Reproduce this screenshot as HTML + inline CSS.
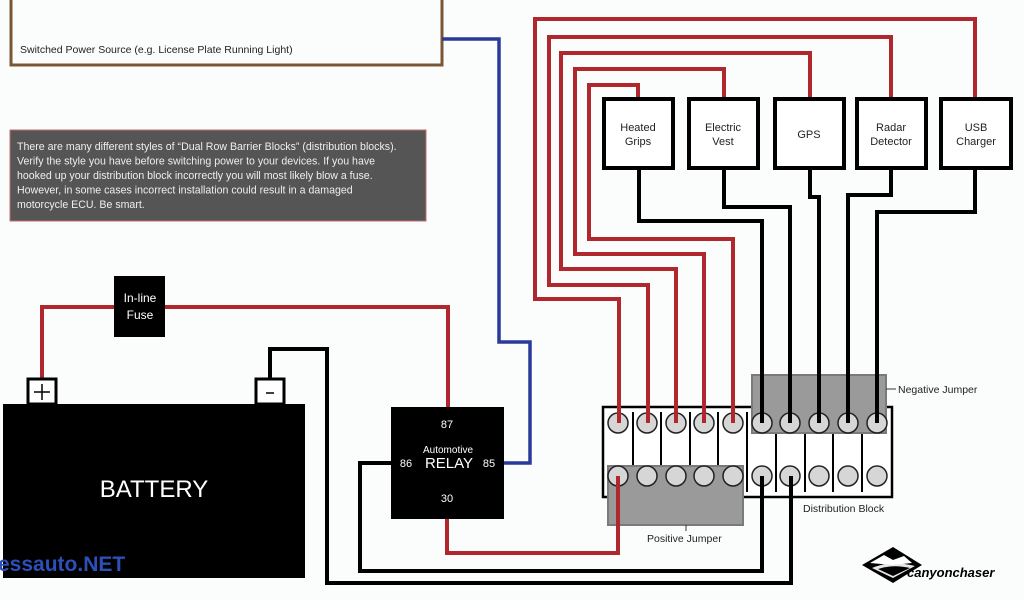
<!DOCTYPE html>
<html><head><meta charset="utf-8"><style>
html,body{margin:0;padding:0;background:#fbfdfd;}
svg{display:block;}
text{font-family:"Liberation Sans",sans-serif;}
</style></head><body>
<svg width="1024" height="600" viewBox="0 0 1024 600" xmlns="http://www.w3.org/2000/svg">
<rect width="1024" height="600" fill="#fbfdfd"/>

<!-- Switched power source box -->
<path d="M11,-5 V65 H442 V-5" fill="none" stroke="#7a5634" stroke-width="3"/>
<text x="20" y="53" font-size="10.5" fill="#222">Switched Power Source (e.g. License Plate Running Light)</text>

<!-- Note box -->
<rect x="10" y="130" width="416" height="91" fill="#555555" stroke="#c06a6a" stroke-width="1"/>
<g font-size="10.6" fill="#eeeeee">
<text x="17" y="150">There are many different styles of “Dual Row Barrier Blocks” (distribution blocks).</text>
<text x="17" y="164.5">Verify the style you have before switching power to your devices. If you have</text>
<text x="17" y="179">hooked up your distribution block incorrectly you will most likely blow a fuse.</text>
<text x="17" y="193.5">However, in some cases incorrect installation could result in a damaged</text>
<text x="17" y="208">motorcycle ECU. Be smart.</text>
</g>

<!-- Blue wire -->
<path d="M442,39 H499 V342 H530 V463 H504" fill="none" stroke="#2b3a9a" stroke-width="3.5"/>

<!-- Distribution block -->
<rect x="603" y="407" width="289" height="90" fill="#fff" stroke="#000" stroke-width="2.5"/>
<g stroke="#000" stroke-width="2">
<line x1="633" y1="412" x2="633" y2="492"/>
<line x1="661" y1="412" x2="661" y2="492"/>
<line x1="690" y1="412" x2="690" y2="492"/>
<line x1="718" y1="412" x2="718" y2="492"/>
<line x1="747" y1="412" x2="747" y2="492"/>
<line x1="776" y1="412" x2="776" y2="492"/>
<line x1="805" y1="412" x2="805" y2="492"/>
<line x1="833" y1="412" x2="833" y2="492"/>
<line x1="862" y1="412" x2="862" y2="492"/>
</g>
<!-- jumpers -->
<rect x="752" y="375" width="134" height="58" fill="#9a9a9a" stroke="#7a7a7a" stroke-width="2"/>
<rect x="608" y="466" width="135" height="59" fill="#9a9a9a" stroke="#7a7a7a" stroke-width="2"/>
<g fill="#d6d6d6" stroke="#222" stroke-width="1.5">
<circle cx="618" cy="423" r="10"/><circle cx="647" cy="423" r="10"/><circle cx="676" cy="423" r="10"/><circle cx="704" cy="423" r="10"/><circle cx="733" cy="423" r="10"/>
<circle cx="762" cy="423" r="10"/><circle cx="790" cy="423" r="10"/><circle cx="819" cy="423" r="10"/><circle cx="848" cy="423" r="10"/><circle cx="877" cy="423" r="10"/>
<circle cx="618" cy="476" r="10"/><circle cx="647" cy="476" r="10"/><circle cx="676" cy="476" r="10"/><circle cx="704" cy="476" r="10"/><circle cx="733" cy="476" r="10"/>
<circle cx="762" cy="476" r="10"/><circle cx="790" cy="476" r="10"/><circle cx="819" cy="476" r="10"/><circle cx="848" cy="476" r="10"/><circle cx="877" cy="476" r="10"/>
</g>

<!-- Red wires -->
<g fill="none" stroke="#b0282e" stroke-width="4">
<path d="M975,98 V19 H535 V299 H619 V423"/>
<path d="M891,98 V37 H549 V285 H648 V423"/>
<path d="M810,98 V53 H561 V269 H676 V423"/>
<path d="M724,98 V69 H575 V254 H704 V423"/>
<path d="M638,98 V85 H589 V239 H733 V423"/>
<path d="M42,380 V307 H448 V407"/>
<path d="M447,519 V553 H618 V476"/>
</g>

<!-- Black wires -->
<g fill="none" stroke="#000" stroke-width="4">
<path d="M639,168 V221 H762 V423"/>
<path d="M724,168 V207 H790 V423"/>
<path d="M810,168 V197 H819 V423"/>
<path d="M891,168 V195 H848 V423"/>
<path d="M975,168 V212 H877 V423"/>
<path d="M391,463 H360 V571 H762 V476"/>
<path d="M270,380 V349 H327 V583 H791 V476"/>
</g>

<!-- Device boxes -->
<g fill="#fff" stroke="#000" stroke-width="4">
<rect x="604" y="99" width="69" height="69"/>
<rect x="689" y="99" width="69" height="69"/>
<rect x="775" y="99" width="69" height="69"/>
<rect x="857" y="99" width="69" height="69"/>
<rect x="941" y="99" width="70" height="69"/>
</g>
<g font-size="11" fill="#222" text-anchor="middle">
<text x="638" y="131">Heated</text><text x="638" y="145">Grips</text>
<text x="723" y="131">Electric</text><text x="723" y="145">Vest</text>
<text x="809" y="138">GPS</text>
<text x="891" y="131">Radar</text><text x="891" y="145">Detector</text>
<text x="976" y="131">USB</text><text x="976" y="145">Charger</text>
</g>

<g stroke="#333" stroke-width="1"><line x1="686" y1="525" x2="686" y2="531"/><line x1="886" y1="389" x2="896" y2="389"/></g>
<g font-size="10.5" fill="#222">
<text x="647" y="542">Positive Jumper</text>
<text x="898" y="393">Negative Jumper</text>
<text x="803" y="512">Distribution Block</text>
</g>

<!-- Battery -->
<rect x="3" y="404" width="302" height="174" fill="#000"/>
<rect x="28" y="379" width="28" height="25" fill="#fff" stroke="#000" stroke-width="3"/>
<rect x="256" y="379" width="28" height="25" fill="#fff" stroke="#000" stroke-width="3"/>
<path d="M42,384 V400 M34,392 H50" stroke="#000" stroke-width="1.5"/>
<path d="M266,393 H274" stroke="#000" stroke-width="1.5"/>
<text x="154" y="497" font-size="24" fill="#fff" text-anchor="middle">BATTERY</text>
<text x="-2" y="571" font-size="21" font-weight="bold" fill="#2c4fb8">essauto.NET</text>

<!-- Fuse -->
<rect x="114" y="276" width="51" height="61" fill="#000"/>
<text x="140" y="302" font-size="12" fill="#fff" text-anchor="middle">In-line</text>
<text x="140" y="319" font-size="12" fill="#fff" text-anchor="middle">Fuse</text>

<!-- Relay -->
<rect x="391" y="407" width="113" height="112" fill="#000"/>
<g fill="#fff" text-anchor="middle">
<text x="447" y="428" font-size="11">87</text>
<text x="448" y="453" font-size="10">Automotive</text>
<text x="449" y="468" font-size="15">RELAY</text>
<text x="406" y="467" font-size="11">86</text>
<text x="489" y="467" font-size="11">85</text>
<text x="447" y="502" font-size="11">30</text>
</g>

<!-- Logo -->
<g>
<path d="M862,565 L893,547 L922,565 L893,583 Z" fill="#000"/>
<path d="M870,563 L884,555 L893,560 L904,556 L912,563 L893,565 Z" fill="#fff"/>
<path d="M872,568 Q890,560 915,566 L893,578 Z" fill="#fff" opacity="0.9"/>
<path d="M878,569 Q893,564 910,568 L893,576 Z" fill="#000"/>
<text x="907" y="577" font-size="13" font-style="italic" font-weight="bold" fill="#000">canyonchaser</text>
</g>
</svg>
</body></html>
